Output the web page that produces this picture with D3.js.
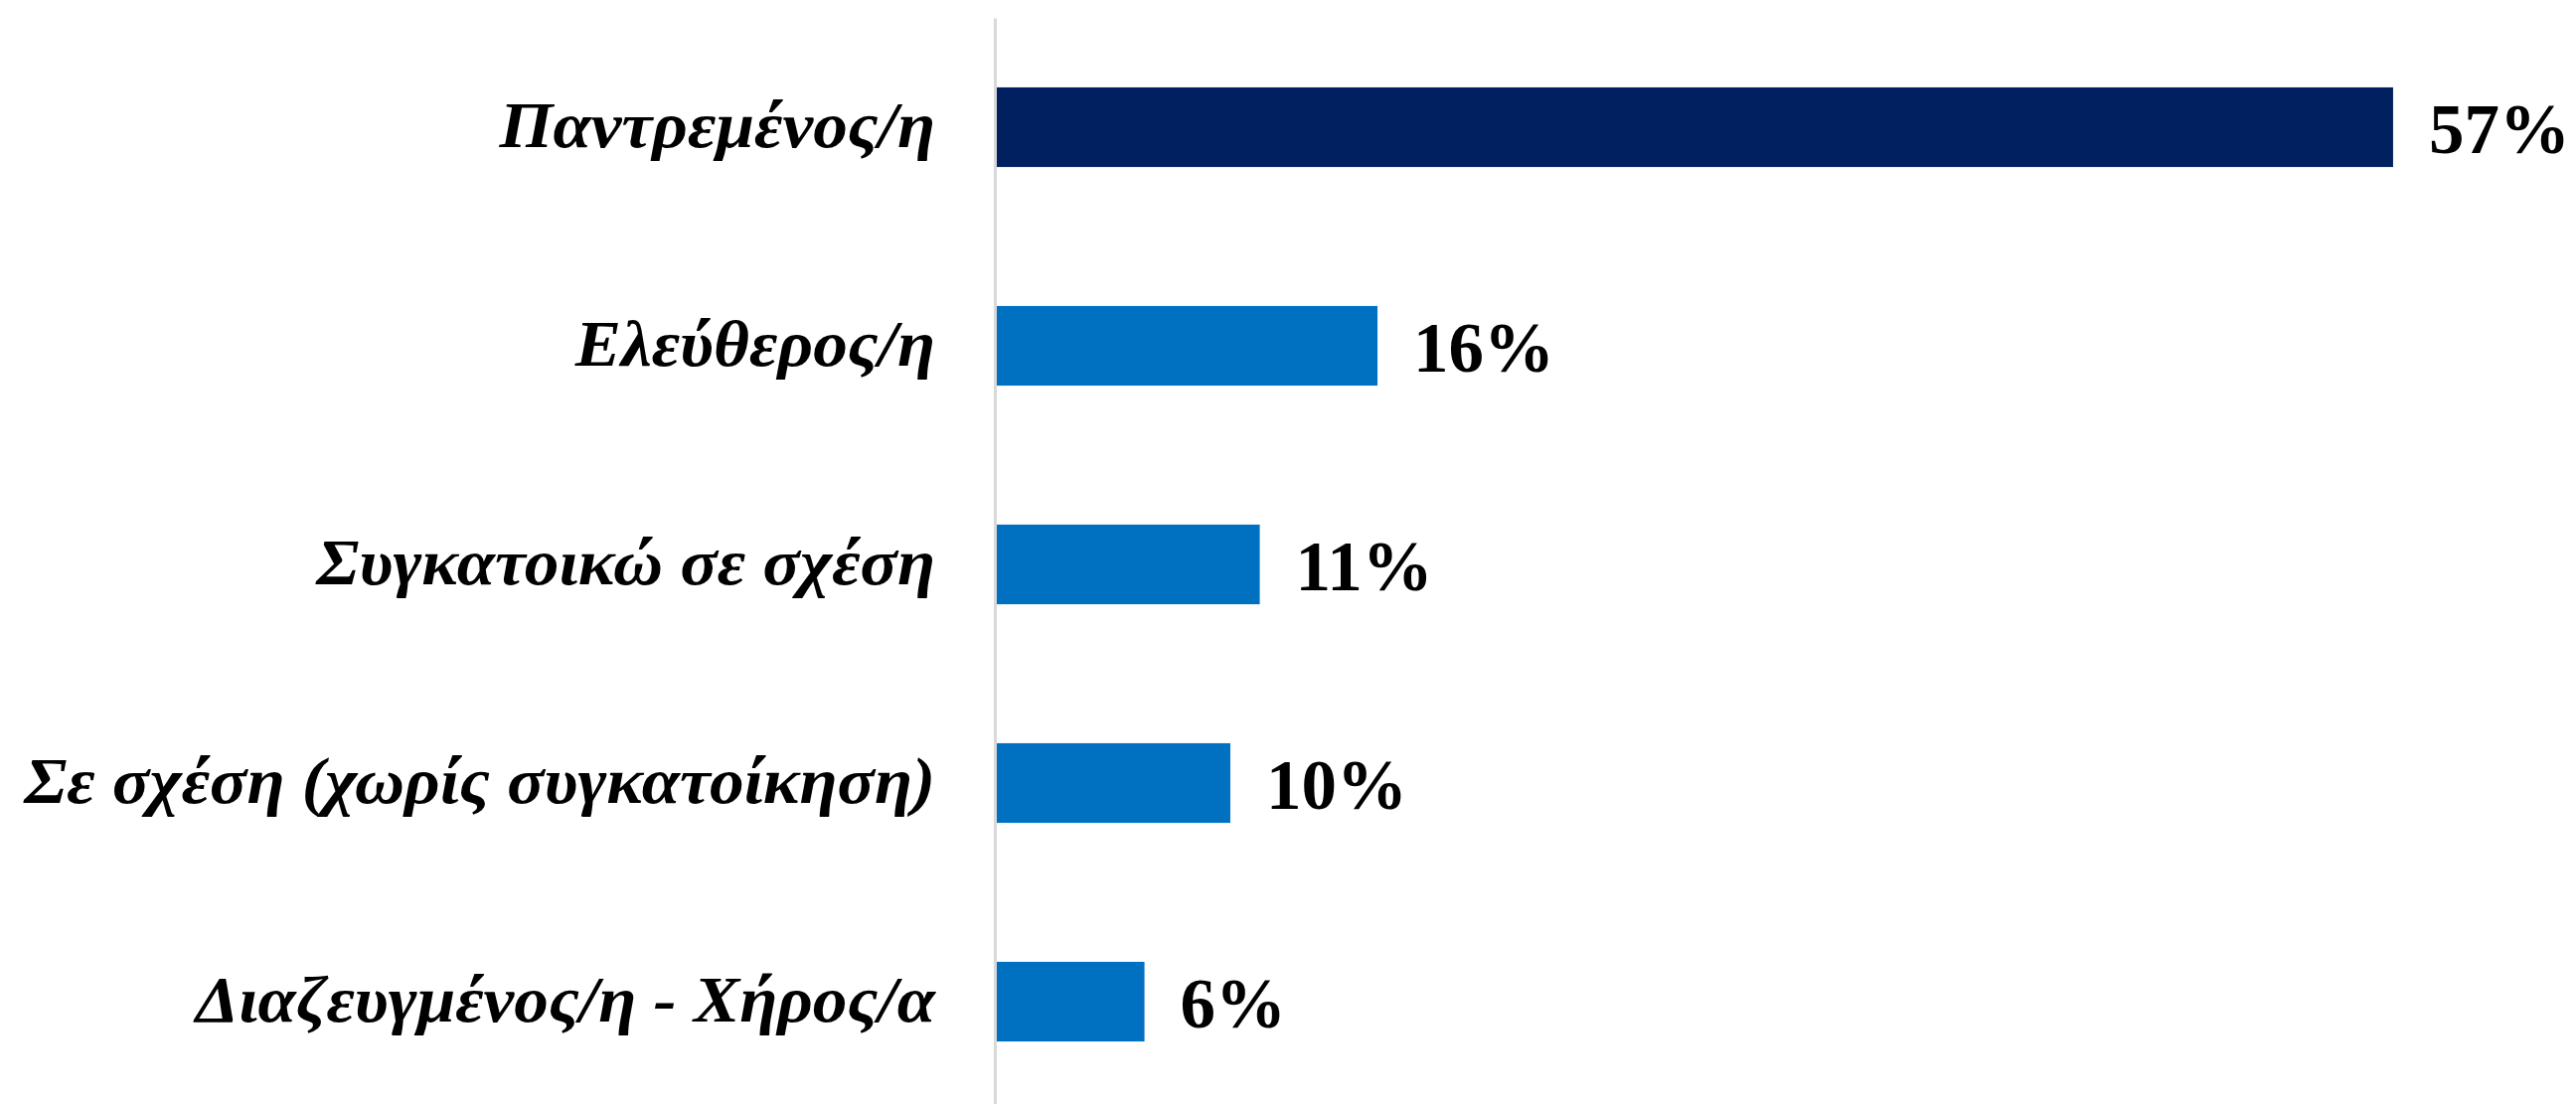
<!DOCTYPE html>
<html>
<head>
<meta charset="utf-8">
<script src="https://cdn.jsdelivr.net/npm/d3@7"></script>
<style>
    body { margin: 0; background: #ffffff; }
    .cat-axis text { font-family: "Liberation Serif", serif; font-style: italic; font-weight: bold; fill: #000; }
    .value-label { font-family: "Liberation Serif", serif; font-weight: bold; fill: #000; }
</style>
</head>
<body>
<svg id="chart"></svg>
<script>
//----------------------------//
//            DATA            //
//----------------------------//
const categories = [
    "Παντρεμένος/η",
    "Ελεύθερος/η",
    "Συγκατοικώ σε σχέση",
    "Σε σχέση (χωρίς συγκατοίκηση)",
    "Διαζευγμένος/η - Χήρος/α"
];
const values = [57.0, 15.6, 10.8, 9.6, 6.1];
const barColors = ["#002060", "#0070C0", "#0070C0", "#0070C0", "#0070C0"];

const data = categories.map((c, i) => ({ cat: c, value: values[i], color: barColors[i] }));

// --- Plotting ---
function plotChart(data) {
    const width = 2592;
    const height = 1111;

    const svg = d3.select('#chart')
        .attr('width', width)
        .attr('height', height);

    const gap = 0.6357;
    const y = d3.scaleBand()
        .domain(data.map(d => d.cat))
        .range([18, 1118])
        .paddingInner(gap)
        .paddingOuter(gap / 2);

    const x = d3.scaleLinear()
        .domain([0, 60])
        .range([1001, 2482]);

    svg.selectAll('.bar')
        .data(data)
        .enter()
        .append('rect')
        .attr('class', 'bar')
        .attr('x', x(0))
        .attr('y', d => y(d.cat))
        .attr('width', d => x(d.value) - x(0))
        .attr('height', y.bandwidth())
        .attr('fill', d => d.color);

    const axis = svg.append('g')
        .attr('class', 'cat-axis')
        .attr('transform', `translate(${x(0)},0)`)
        .call(d3.axisLeft(y).tickSize(0).tickSizeOuter(0).tickPadding(60));

    axis.select('.domain')
        .attr('stroke', '#d9d9d9')
        .attr('stroke-width', 3);

    // stretch labels a little, the original face is wider than Liberation Serif
    axis.selectAll('text')
        .attr('font-size', 66)
        .attr('dy', '0.3em')
        .each(function () {
            const t = d3.select(this);
            const w = this.getComputedTextLength();
            t.attr('textLength', w * 1.05).attr('lengthAdjust', 'spacingAndGlyphs');
        });

    const fmt = d => d3.format('.0f')(d) + '%';

    svg.selectAll('.value-label')
        .data(data)
        .enter()
        .append('text')
        .attr('class', 'value-label')
        .attr('x', d => x(d.value) + 36)
        .attr('y', d => y(d.cat) + y.bandwidth() / 2)
        .attr('dy', '0.36em')
        .attr('font-size', 71)
        .text(d => fmt(d.value));
}

plotChart(data);
</script>
</body>
</html>
